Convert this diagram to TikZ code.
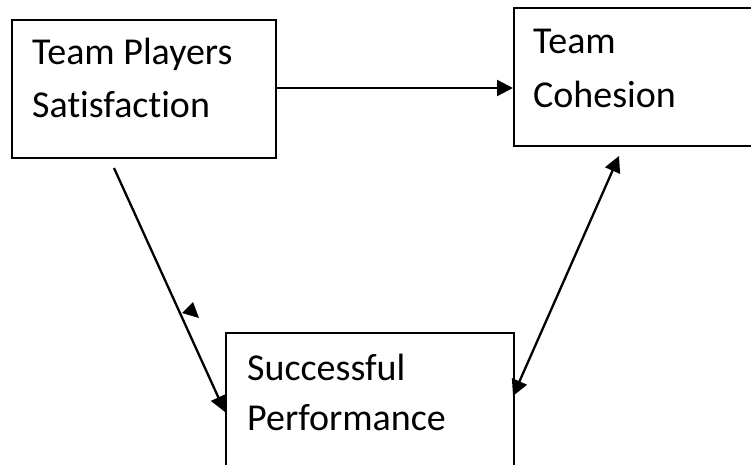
\documentclass[tikz,border=0pt]{standalone}
\usepackage{fontspec}
\setmainfont[Ligatures=NoCommon]{Carlito}
\usetikzlibrary{arrows.meta}
\begin{document}
\begin{tikzpicture}[x=1pt,y=-1pt,
  box/.style={draw=black, line width=2.3pt, rectangle, inner sep=0pt, anchor=north west},
  txt/.style={font=\fontsize{38}{44}\selectfont, anchor=base west, inner sep=0pt},
  conn/.style={line width=2.3pt, -{Triangle[length=16pt,width=16pt]}},
  dconn/.style={line width=2.3pt, {Triangle[length=16pt,width=16pt]}-{Triangle[length=16pt,width=16pt]}}]
\useasboundingbox (0,0) rectangle (751,465);
\clip (0,0) rectangle (751,465);
\node[box, minimum width=264pt, minimum height=138pt] (tps) at (11,19) {};
\node[box, minimum width=280pt, minimum height=138pt] (tc) at (513,7) {};
\node[box, minimum width=288pt, minimum height=200pt] (sp) at (225,332) {};
\node[txt] (t1) at (32,65) {Team Players};
\node[txt] (t2) at (32,118) {Satisfaction};
\node[txt] (t3) at (533,54) {Team};
\node[txt] (t4) at (533,108) {Cohesion};
\node[txt] (t5) at (247,380) {Successful};
\node[txt] (t6) at (247,430) {Performance};
\coordinate (a1) at (275,88);
\coordinate (a2) at (513,88);
\coordinate (b1) at (114,168);
\coordinate (b2) at (225,412);
\coordinate (c1) at (513,396);
\coordinate (c2) at (619,156);
\draw[conn] (a1) -- (a2);
\draw[conn] (b1) -- (b2);
\draw[dconn] (c1) -- (c2);
\coordinate (s1) at (193,302);
\coordinate (s2) at (182,313);
\coordinate (s3) at (199,318);
\fill (s1) -- (s2) -- (s3) -- cycle;
\end{tikzpicture}
\end{document}
